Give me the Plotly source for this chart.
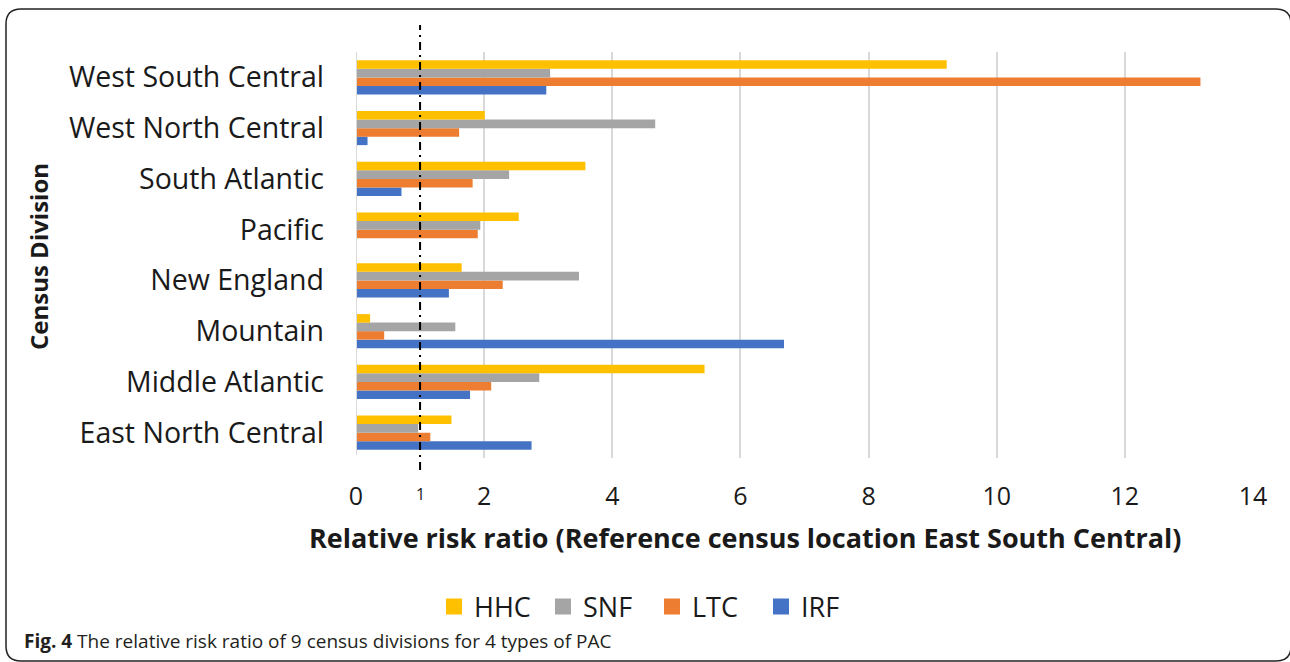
import plotly.graph_objects as go

# Census divisions, bottom to top as drawn on the category axis
divisions = [
    "East North Central",
    "Middle Atlantic",
    "Mountain",
    "New England",
    "Pacific",
    "South Atlantic",
    "West North Central",
    "West South Central",
]

# Relative risk ratios per post-acute care type (same order as divisions)
hhc = [1.49, 5.44, 0.22, 1.65, 2.54, 3.58, 2.01, 9.22]
snf = [0.97, 2.86, 1.55, 3.48, 1.94, 2.39, 4.67, 3.03]
ltc = [1.16, 2.11, 0.44, 2.29, 1.90, 1.82, 1.61, 13.18]
irf = [2.74, 1.78, 6.68, 1.45, 0.00, 0.71, 0.18, 2.97]

x_ticks = [0, 2, 4, 6, 8, 10, 12, 14]
reference_ratio = 1

# Drawn bottom-up inside each group, so HHC ends up on top
series = [
    ("IRF", irf, "#4472C4"),
    ("LTC", ltc, "#ED7D31"),
    ("SNF", snf, "#A5A5A5"),
    ("HHC", hhc, "#FFC000"),
]

W, H = 1290, 662
L, R, T, B = 356, 37, 52, 204
PW, PH = W - L - R, H - T - B


def px(xp):
    return (xp - L) / PW


def py(yp):
    return 1 - (yp - T) / PH


fig = go.Figure()
for name, vals, color in series:
    fig.add_trace(go.Bar(
        y=divisions, x=vals, name=name, orientation="h",
        marker=dict(color=color, line=dict(width=0)),
        showlegend=False, legendgroup=name,
    ))

# Legend entries with larger square swatches, in HHC, SNF, LTC, IRF order
for name, vals, color in reversed(series):
    fig.add_trace(go.Scatter(
        x=[None], y=[None], mode="markers", name=name, legendgroup=name,
        marker=dict(symbol="square", size=18, color=color),
        showlegend=True,
    ))

font = "Open Sans, Noto Sans, sans-serif"

fig.update_layout(
    width=W, height=H,
    margin=dict(l=L, r=R, t=T, b=B),
    paper_bgcolor="white", plot_bgcolor="white",
    barmode="group", bargap=0.33, bargroupgap=0,
    font=dict(family=font, color="#1a1a1a"),
    showlegend=True,
    legend=dict(
        orientation="h", traceorder="normal",
        x=px(652), xanchor="center", y=py(607), yanchor="middle",
        font=dict(size=27, color="#1a1a1a"),
        entrywidth=64, entrywidthmode="pixels",
        itemsizing="trace",
    ),
    xaxis=dict(
        range=[0, 14], tickvals=x_ticks, ticktext=[str(v) for v in x_ticks],
        showgrid=True, gridcolor="#d9d9d9", gridwidth=2,
        zeroline=False, showline=False, ticks="",
        tickfont=dict(size=25, color="#1a1a1a"),
        ticklabelstandoff=21,
        fixedrange=True,
    ),
    yaxis=dict(
        showgrid=False, zeroline=False, showline=False, ticks="",
        tickfont=dict(size=28.5, color="#1a1a1a"),
        ticklabelstandoff=31,
        fixedrange=True,
    ),
)

# Zero baseline
fig.add_shape(type="line", xref="x", yref="paper", x0=0, x1=0, y0=py(455), y1=py(52),
              line=dict(color="#d9d9d9", width=2))

# Dash-dot reference line at ratio 1
fig.add_shape(type="line", xref="x", yref="paper",
              x0=reference_ratio, x1=reference_ratio, y0=py(470), y1=py(25),
              line=dict(color="black", width=2, dash="8px,5px,2px,5px"))
fig.add_annotation(xref="x", yref="paper", x=reference_ratio, y=py(494),
                   xanchor="center", yanchor="middle",
                   text=str(reference_ratio), showarrow=False,
                   font=dict(size=16, color="#1a1a1a"))

# Horizontal axis title
fig.add_annotation(xref="paper", yref="paper", x=px(745), y=py(537),
                   xanchor="center", yanchor="middle", showarrow=False,
                   text="<b>Relative risk ratio (Reference census location East South Central)</b>",
                   font=dict(size=27, color="#1a1a1a"))

# Vertical axis title
fig.add_annotation(xref="paper", yref="paper", x=px(38), y=py(257),
                   xanchor="center", yanchor="middle",
                   text="<b>Census Division</b>", textangle=-90, showarrow=False,
                   font=dict(size=24, color="#1a1a1a"))

# Figure caption
fig.add_annotation(xref="paper", yref="paper", x=px(22), y=py(641),
                   xanchor="left", yanchor="middle", showarrow=False,
                   text="<b>Fig. 4</b> The relative risk ratio of 9 census divisions for 4 types of PAC",
                   font=dict(size=19, color="#231f20"))

# Rounded frame around the figure
x0, x1, y0, y1, r = 6, 1291, 9, 661, 15
path = (
    f"M {px(x0)},{py(y1 - r)} L {px(x0)},{py(y0 + r)} "
    f"Q {px(x0)},{py(y0)} {px(x0 + r)},{py(y0)} "
    f"L {px(x1 - r)},{py(y0)} Q {px(x1)},{py(y0)} {px(x1)},{py(y0 + r)} "
    f"L {px(x1)},{py(y1 - r)} Q {px(x1)},{py(y1)} {px(x1 - r)},{py(y1)} "
    f"L {px(x0 + r)},{py(y1)} Q {px(x0)},{py(y1)} {px(x0)},{py(y1 - r)} Z"
)
fig.add_shape(type="path", xref="paper", yref="paper", path=path,
              line=dict(color="#222222", width=1.5), fillcolor="rgba(0,0,0,0)")

fig.write_html("out.html")
